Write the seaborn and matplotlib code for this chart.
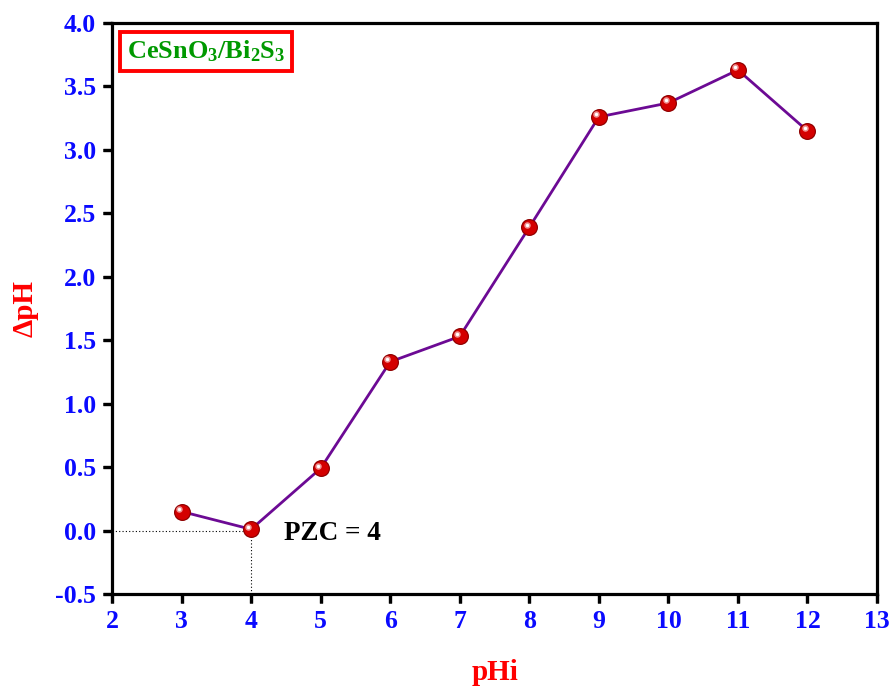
import matplotlib
matplotlib.use("Agg")
import matplotlib.pyplot as plt
import matplotlib.transforms as mtransforms
from matplotlib.lines import TICKDOWN, TICKLEFT
from matplotlib.ticker import FixedLocator, FormatStrFormatter
import seaborn as sns
import pandas as pd

# Point of zero charge measurements
phi = [3, 4, 5, 6, 7, 8, 9, 10, 11, 12]
delta_ph = [0.15, 0.01, 0.49, 1.33, 1.53, 2.39, 3.26, 3.37, 3.63, 3.15]
x_ticks = [2, 3, 4, 5, 6, 7, 8, 9, 10, 11, 12, 13]
y_ticks = [-0.5, 0.0, 0.5, 1.0, 1.5, 2.0, 2.5, 3.0, 3.5, 4.0]
pzc = 4

sns.set_theme(style="ticks")
plt.rcParams["font.family"] = ["Liberation Serif", "DejaVu Serif"]
plt.rcParams["font.weight"] = "bold"
plt.rcParams["axes.unicode_minus"] = False
plt.rcParams["mathtext.fontset"] = "custom"
plt.rcParams["mathtext.rm"] = "Liberation Serif:bold"
plt.rcParams["mathtext.bf"] = "Liberation Serif:bold"
plt.rcParams["mathtext.it"] = "Liberation Serif:bold"
plt.rcParams["axes.linewidth"] = 2.3
plt.rcParams["axes.edgecolor"] = "black"

df = pd.DataFrame({"pHi": phi, "dpH": delta_ph})

fig = plt.figure(figsize=(8.94, 6.89), dpi=100)
ax = fig.add_axes([0.1253, 0.1379, 0.8557, 0.8287])

sns.lineplot(data=df, x="pHi", y="dpH", ax=ax, color="#6c0a94", linewidth=2.0, zorder=2)

# glossy sphere markers: shadowed rim, body, specular highlight
ax.scatter(df["pHi"], df["dpH"], s=150, color="#900000", zorder=3, linewidths=0)
ax.scatter(df["pHi"], df["dpH"], s=110, color="#d40000", zorder=4, linewidths=0)
hl = mtransforms.offset_copy(ax.transData, fig=fig, x=-2.0, y=1.8, units="points")
ax.scatter(df["pHi"], df["dpH"], s=22, color="#f09090", zorder=5, linewidths=0, transform=hl)
ax.scatter(df["pHi"], df["dpH"], s=6, color="#ffffff", zorder=6, linewidths=0, transform=hl)

# PZC guide lines
ax.plot([x_ticks[0], pzc], [0, 0], color="black", linestyle=(0, (1, 2)), linewidth=0.8, zorder=1)
ax.plot([pzc, pzc], [y_ticks[0], 0], color="black", linestyle=(0, (1, 2)), linewidth=0.8, zorder=1)
ax.text(4.47, -0.02, f"PZC = {pzc}", fontsize=19.5, fontweight="bold", color="black",
        va="center", ha="left")

ax.set_xlim(x_ticks[0], x_ticks[-1])
ax.set_ylim(y_ticks[0], y_ticks[-1])
ax.xaxis.set_major_locator(FixedLocator(x_ticks))
ax.yaxis.set_major_locator(FixedLocator(y_ticks))
ax.xaxis.set_major_formatter(FormatStrFormatter("%d"))
ax.yaxis.set_major_formatter(FormatStrFormatter("%.1f"))

ax.set_xlabel("pHi", fontsize=21, fontweight="bold", color="#ff0000", labelpad=19)
ax.set_ylabel("ΔpH", fontsize=21, fontweight="bold", color="#ff0000", labelpad=12)

ax.text(0.019, 0.973, r"$\mathbf{CeSnO_3/Bi_2S_3}$", transform=ax.transAxes,
        fontsize=19, color="#009900", va="top", ha="left",
        bbox=dict(boxstyle="square,pad=0.25", facecolor="white", edgecolor="#ff0000", linewidth=2.8))

ax.tick_params(axis="both", which="major", direction="out", length=6.5, width=2.3,
               color="black", labelsize=18.5, labelcolor="#0a0aff", pad=5)

# outward tick marks along the bottom and left spines
ax.plot(x_ticks, [0] * len(x_ticks), transform=ax.get_xaxis_transform(), linestyle="None",
        marker=TICKDOWN, markersize=6.5, markeredgewidth=2.3, color="black",
        clip_on=False, zorder=10)
ax.plot([0] * len(y_ticks), y_ticks, transform=ax.get_yaxis_transform(), linestyle="None",
        marker=TICKLEFT, markersize=6.5, markeredgewidth=2.3, color="black",
        clip_on=False, zorder=10)

fig.savefig("out.png", dpi=100)
